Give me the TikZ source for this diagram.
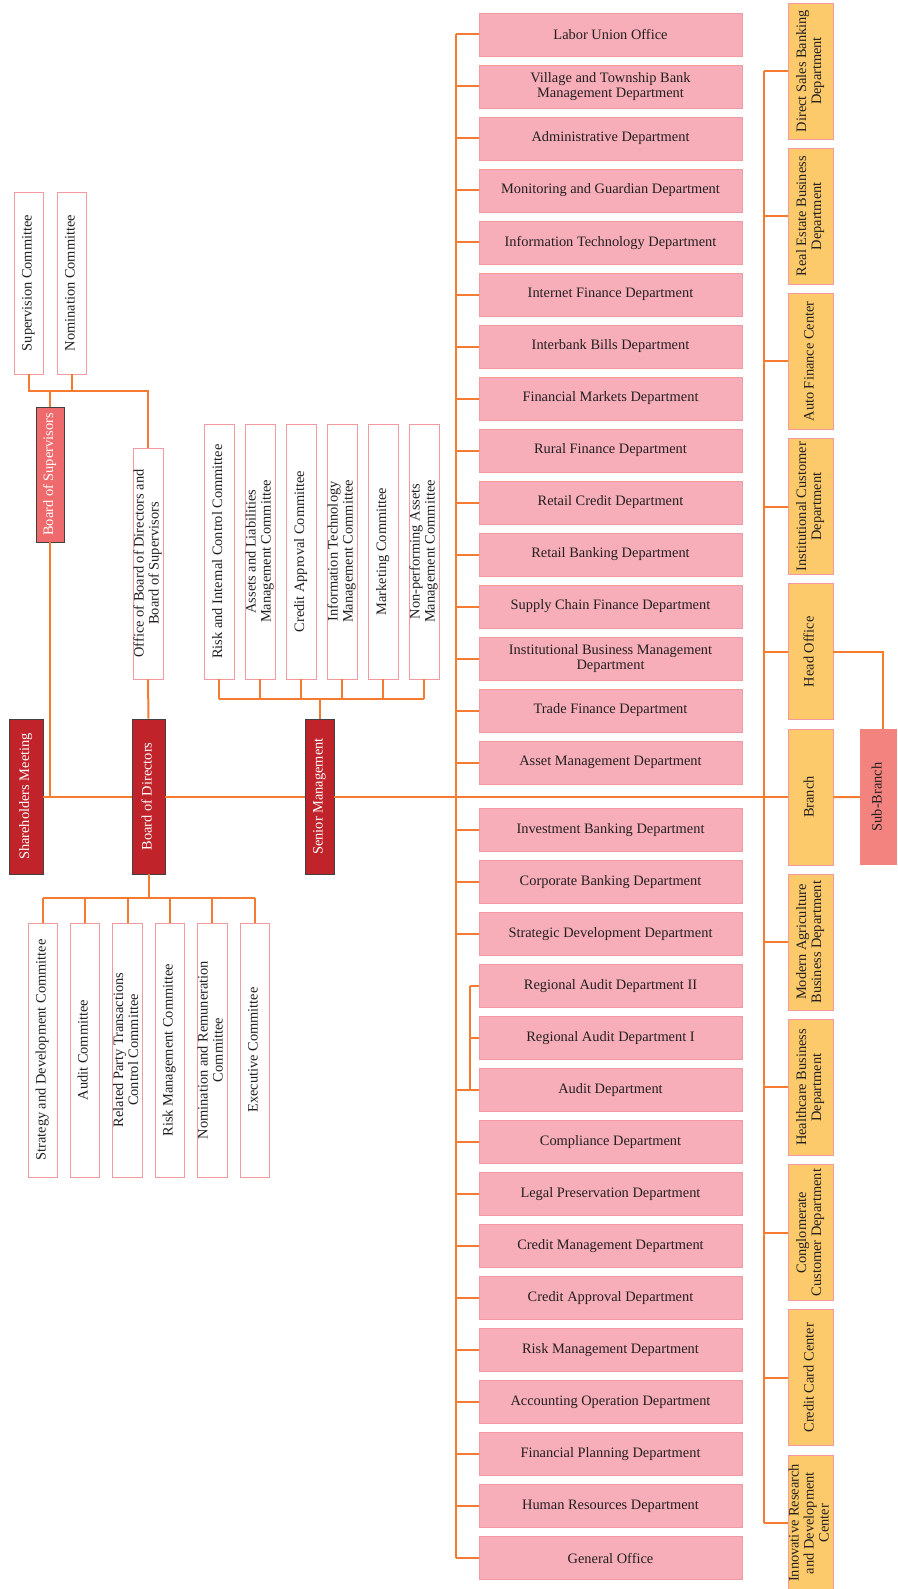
\documentclass[tikz,border=0pt]{standalone}
\usepackage{fontspec}
\setmainfont{Liberation Serif}
\usepackage{graphicx}
\definecolor{ln}{HTML}{F47B2F}
\definecolor{pinkfill}{HTML}{F7AEB8}
\definecolor{pinkline}{HTML}{F39AA0}
\definecolor{yel}{HTML}{FCCA6A}
\definecolor{dred}{HTML}{C1232A}
\definecolor{bosred}{HTML}{EE6A6D}
\definecolor{subb}{HTML}{F3837E}
\definecolor{txt}{HTML}{231F20}
\newcommand\vtext[1]{\rotatebox{90}{\begin{tabular}{@{}c@{}}#1\end{tabular}}}
\tikzset{
  base/.style={inner sep=0pt, font=\fontsize{14.4}{15}\selectfont, align=center, text=txt},
  dept/.style={base, draw=pinkline, fill=pinkfill, line width=0.8pt, minimum width=263pt, minimum height=43pt},
  yelbox/.style={base, draw=pinkline, fill=yel, line width=0.8pt, minimum width=45pt, minimum height=136pt},
  comm/.style={base, draw=pinkline, fill=white, line width=0.8pt, minimum width=29pt},
  mainbox/.style={base, draw=black!75, fill=dred, text=white, line width=0.8pt, minimum height=155pt},
  conn/.style={draw=ln, line width=2pt}
}
\begin{document}
\begin{tikzpicture}[x=1pt,y=-1pt]
\useasboundingbox (0,0) rectangle (897,1589);
% main row
\node[mainbox, minimum width=34pt] (sh) at (26,796.5) {\vtext{Shareholders Meeting}};
\node[mainbox, minimum width=33pt] (bod) at (148.5,796.5) {\vtext{Board of Directors}};
\node[mainbox, minimum width=29pt] (sm) at (319.5,796.5) {\vtext{Senior Management}};
% supervisors
\node[base, draw=black!75, fill=bosred, text=white, line width=0.8pt, minimum width=28pt, minimum height=135pt] (bos) at (50,474.5) {\vtext{Board of Supervisors}};
\node[comm, minimum height=182pt] (sup) at (28.5,283) {\vtext{Supervision Committee}};
\node[comm, minimum height=182pt] (nom) at (71.5,283) {\vtext{Nomination Committee}};
\node[comm, minimum width=30pt, minimum height=231pt] (off) at (148,563.5) {\vtext{Office of Board of Directors and\\Board of Supervisors}};
\coordinate (tb) at (0,391);
\draw[conn] (sup.south) -- (sup.south |- tb) -- (off.north |- tb) -- (off.north);
\draw[conn] (nom.south) -- (nom.south |- tb);
\draw[conn] (bos.north) -- (bos.north |- tb);
\draw[conn] (off.south) -- (bod.north);
% board committees
\foreach \i/\x/\t in {1/42.5/{Strategy and Development Committee},2/84.5/{Audit Committee},3/127.5/{Related Party Transactions\\Control Committee},4/169.5/{Risk Management Committee},5/212/{Nomination and Remuneration\\Committee},6/254.5/{Executive Committee}}{
  \node[comm, minimum height=254pt] (bc\i) at (\x,1050) {\vtext{\t}};
}
\coordinate (bb) at (0,898);
\draw[conn] (bod.south) -- (bod.south |- bb);
\draw[conn] (bc1.north |- bb) -- (bc6.north |- bb);
\foreach \i in {1,...,6}{\draw[conn] (bc\i.north) -- (bc\i.north |- bb);}
% senior committees
\foreach \i/\x/\t in {1/219/{Risk and Internal Control Committee},2/260/{Assets and Liabilities\\Management Committee},3/301/{Credit Approval Committee},4/342/{Information Technology\\Management Committee},5/383/{Marketing Committee},6/424/{Non-performing Assets\\Management Committee}}{
  \node[comm, minimum width=30pt, minimum height=255pt] (sc\i) at (\x,551.5) {\vtext{\t}};
}
\coordinate (sb) at (0,699);
\draw[conn] (sm.north) -- (sm.north |- sb);
\draw[conn] (sc1.south |- sb) -- (sc6.south |- sb);
\foreach \i in {1,...,6}{\draw[conn] (sc\i.south) -- (sc\i.south |- sb);}
% departments
\foreach \i/\t in {0/{Labor Union Office},1/{Village and Township Bank\\Management Department},2/{Administrative Department},3/{Monitoring and Guardian Department},4/{Information Technology Department},5/{Internet Finance Department},6/{Interbank Bills Department},7/{Financial Markets Department},8/{Rural Finance Department},9/{Retail Credit Department},10/{Retail Banking Department},11/{Supply Chain Finance Department},12/{Institutional Business Management\\Department},13/{Trade Finance Department},14/{Asset Management Department}}{
  \node[dept] (u\i) at (610.5,34.5+52*\i) {\t};
}
\foreach \i/\t in {0/{Investment Banking Department},1/{Corporate Banking Department},2/{Strategic Development Department},3/{Regional Audit Department II},4/{Regional Audit Department I},5/{Audit Department},6/{Compliance Department},7/{Legal Preservation Department},8/{Credit Management Department},9/{Credit Approval Department},10/{Risk Management Department},11/{Accounting Operation Department},12/{Financial Planning Department},13/{Human Resources Department},14/{General Office}}{
  \node[dept] (l\i) at (610.5,830+52*\i) {\t};
}
\coordinate (mv) at (456,0);
\coordinate (av) at (470,0);
\draw[conn] (mv |- u0.west) -- (mv |- l14.west);
\foreach \i in {0,...,14}{\draw[conn] (mv |- u\i.west) -- (u\i.west);}
\foreach \i in {0,1,2,5,6,7,8,9,10,11,12,13,14}{\draw[conn] (mv |- l\i.west) -- (l\i.west);}
\draw[conn] (av |- l3.west) -- (av |- l5.west);
\draw[conn] (av |- l3.west) -- (l3.west);
\draw[conn] (av |- l4.west) -- (l4.west);
% yellow units
\foreach \i/\t in {0/{Direct Sales Banking\\Department},1/{Real Estate Business\\Department},2/{Auto Finance Center},3/{Institutional Customer\\Department},4/{Head Office},5/{Branch},6/{Modern Agriculture\\Business Department},7/{Healthcare Business\\Department},8/{Conglomerate\\Customer Department},9/{Credit Card Center},10/{Innovative Research\\and Development\\Center}}{
  \node[yelbox] (y\i) at (810.5,71+145.2*\i) {\vtext{\t}};
}
\coordinate (yv) at (764,0);
\draw[conn] (yv |- y0.west) -- (yv |- y10.west);
\foreach \i in {0,...,10}{\draw[conn] (yv |- y\i.west) -- (y\i.west);}
\node[base, fill=subb, minimum width=37pt, minimum height=136pt] (subbr) at (878.5,797) {\vtext{Sub-Branch}};
\draw[conn] (y4.east) -| ([xshift=4.5pt]subbr.north);
\draw[conn] (y5.east) -- (subbr.west);
% main horizontal line
\draw[conn] (sh.east) -- (bod.west);
\draw[conn] (bos.south) -- (bos.south |- sh.east);
\draw[conn] (bod.east) -- (sm.west);
\draw[conn] (sm.east) -- (mv |- sm.east);
\draw[conn] (mv |- sm.east) -- (yv |- sm.east);
\end{tikzpicture}
\end{document}
